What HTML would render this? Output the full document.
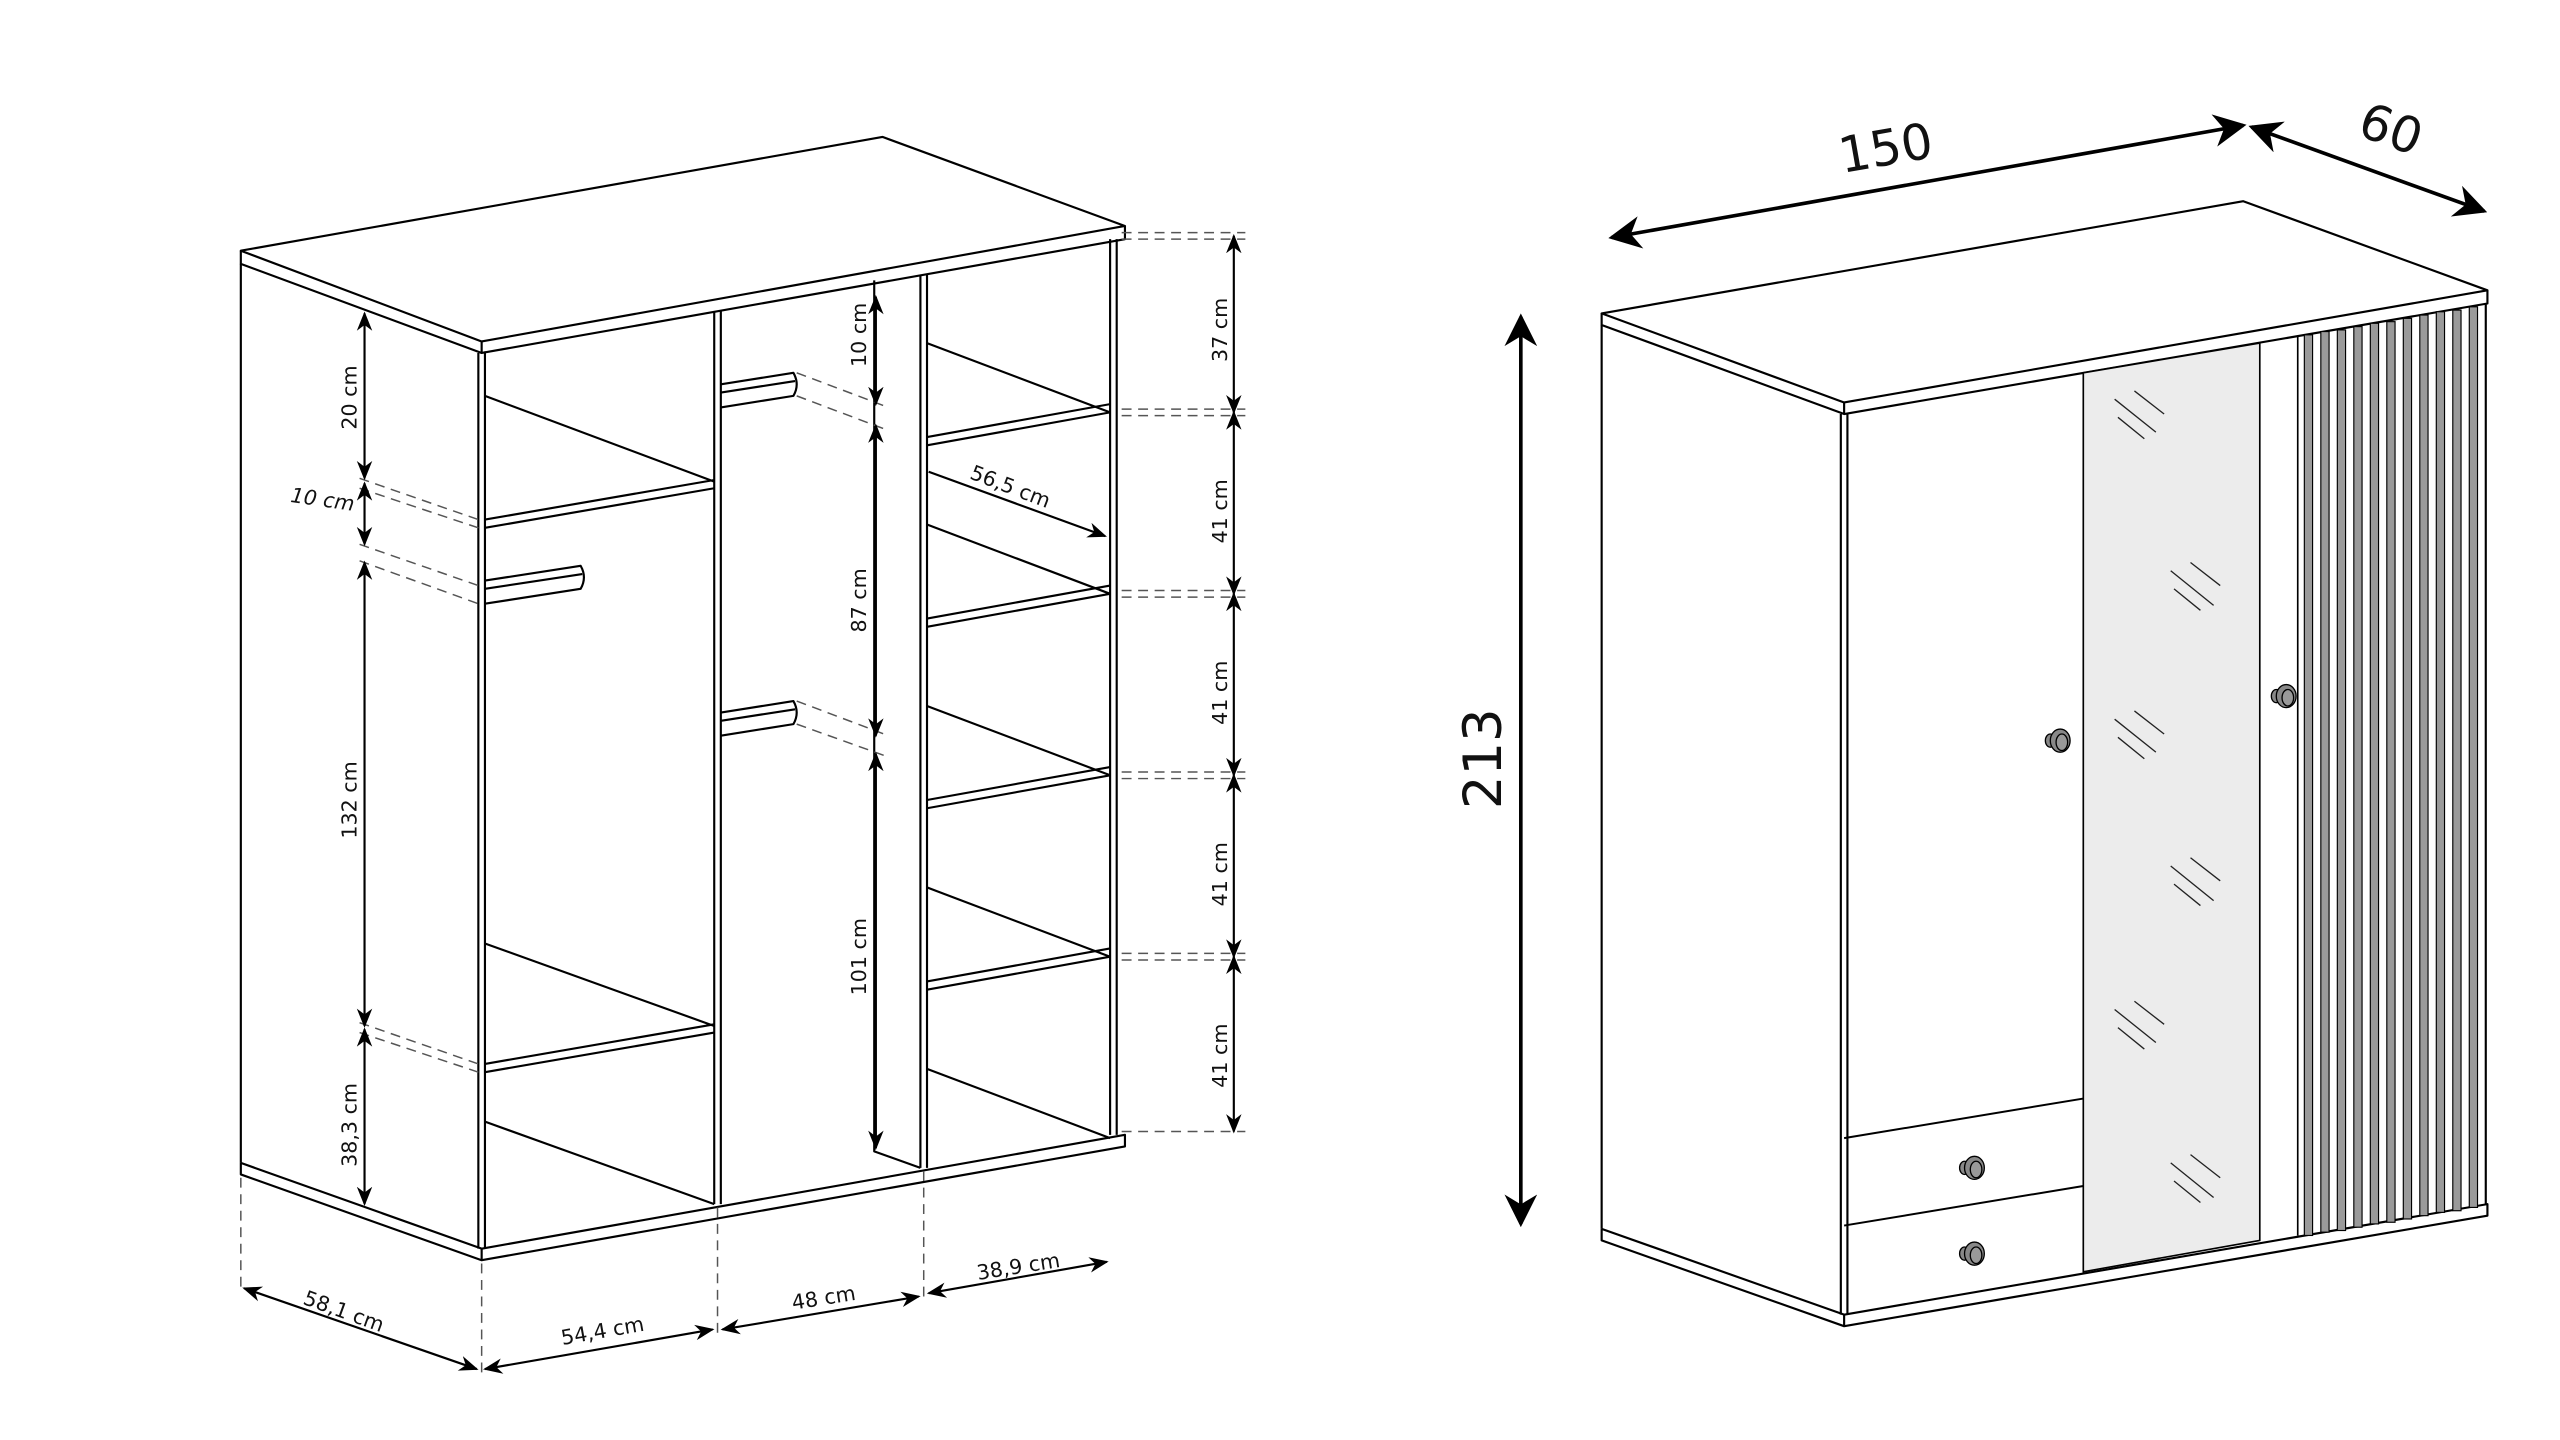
<!DOCTYPE html>
<html><head><meta charset="utf-8"><style>
html,body{margin:0;padding:0;background:#fff;}
svg{display:block;}
text{font-family:"DejaVu Sans","Liberation Sans",sans-serif;fill:#111;}
</style></head><body>
<svg width="2560" height="1440" viewBox="0 0 1552 873" preserveAspectRatio="none" xmlns="http://www.w3.org/2000/svg">
<defs>
<marker id="a" viewBox="0 0 10 10" refX="9" refY="5" markerWidth="9" markerHeight="9" orient="auto-start-reverse"><path d="M0,1 L10,5 L0,9 L3,5 Z" fill="#000"/></marker>
<marker id="b" viewBox="0 0 10 10" refX="9" refY="5" markerWidth="9" markerHeight="9" orient="auto-start-reverse"><path d="M0,0 L10,5 L0,10 L3,5 Z" fill="#000"/></marker>
</defs>
<rect width="1552" height="873" fill="#fff"/>
<g fill="none" stroke="#000" stroke-width="1.3" stroke-linejoin="round">
<polygon points="146,152 535,83 682,137 292,207" fill="#fff"/>
<polyline points="146,152 146,160 292,214 682,145 682,137"/>
<line x1="292" y1="207" x2="292" y2="214"/>
<line x1="146" y1="160" x2="146" y2="705"/>
<line x1="290" y1="214" x2="290" y2="757"/>
<line x1="294" y1="213" x2="294" y2="757"/>
<polyline points="146,705 292,757 682,688 682,695 292,764 146,712 146,705"/>
<line x1="292" y1="757" x2="292" y2="764"/>
<line x1="673" y1="145" x2="673" y2="688"/>
<line x1="677" y1="145" x2="677" y2="688"/>
<line x1="433" y1="189" x2="433" y2="730"/>
<line x1="437" y1="188" x2="437" y2="730"/>
<line x1="558" y1="167" x2="558" y2="708"/>
<line x1="562" y1="166" x2="562" y2="708"/>
<polyline points="530,170 530,698 558,708"/>
<line x1="294" y1="240" x2="433" y2="292"/>
<line x1="294" y1="315" x2="433" y2="291"/>
<line x1="294" y1="320" x2="433" y2="296"/>
<line x1="294" y1="572" x2="433" y2="622"/>
<line x1="294" y1="645" x2="433" y2="621"/>
<line x1="294" y1="650" x2="433" y2="626"/>
<line x1="294" y1="680" x2="433" y2="730"/>
<path d="M294,352 L352,343 Q356,350 352,357 L294,366"/>
<line x1="294" y1="357" x2="353" y2="348"/>
<path d="M437,233 L481,226 Q485,233 481,240 L437,247"/>
<line x1="437" y1="238" x2="482" y2="231"/>
<path d="M437,432 L481,425 Q485,432 481,439 L437,446"/>
<line x1="437" y1="437" x2="482" y2="430"/>
<line x1="562" y1="208" x2="673" y2="250"/>
<line x1="562" y1="265" x2="673" y2="245"/>
<line x1="562" y1="270" x2="673" y2="250"/>
<line x1="562" y1="318" x2="673" y2="360"/>
<line x1="562" y1="375" x2="673" y2="355"/>
<line x1="562" y1="380" x2="673" y2="360"/>
<line x1="562" y1="428" x2="673" y2="470"/>
<line x1="562" y1="485" x2="673" y2="465"/>
<line x1="562" y1="490" x2="673" y2="470"/>
<line x1="562" y1="538" x2="673" y2="580"/>
<line x1="562" y1="595" x2="673" y2="575"/>
<line x1="562" y1="600" x2="673" y2="580"/>
<line x1="562" y1="648" x2="673" y2="690"/>
</g>
<g stroke="#555" stroke-width="0.9" stroke-dasharray="6,4" fill="none">
<line x1="680" y1="141" x2="755" y2="141"/><line x1="680" y1="145" x2="755" y2="145"/>
<line x1="680" y1="248" x2="755" y2="248"/><line x1="680" y1="252" x2="755" y2="252"/>
<line x1="680" y1="358" x2="755" y2="358"/><line x1="680" y1="362" x2="755" y2="362"/>
<line x1="680" y1="468" x2="755" y2="468"/><line x1="680" y1="472" x2="755" y2="472"/>
<line x1="680" y1="578" x2="755" y2="578"/><line x1="680" y1="582" x2="755" y2="582"/>
<line x1="680" y1="686" x2="755" y2="686"/>
<line x1="218" y1="290" x2="290" y2="315"/><line x1="218" y1="296" x2="290" y2="320"/>
<line x1="218" y1="330" x2="290" y2="355"/><line x1="218" y1="340" x2="290" y2="366"/>
<line x1="218" y1="620" x2="290" y2="645"/><line x1="218" y1="626" x2="290" y2="650"/>
<line x1="483" y1="226" x2="536" y2="246"/><line x1="483" y1="240" x2="536" y2="260"/>
<line x1="483" y1="425" x2="536" y2="445"/><line x1="483" y1="439" x2="536" y2="458"/>
<line x1="146" y1="714" x2="146" y2="782"/>
<line x1="292" y1="766" x2="292" y2="834"/>
<line x1="435" y1="732" x2="435" y2="810"/>
<line x1="560" y1="710" x2="560" y2="788"/>
</g>
<g stroke="#000" stroke-width="1.3" fill="none" marker-start="url(#a)" marker-end="url(#a)">
<line x1="748" y1="143" x2="748" y2="250"/>
<line x1="748" y1="250" x2="748" y2="360"/>
<line x1="748" y1="360" x2="748" y2="470"/>
<line x1="748" y1="470" x2="748" y2="580"/>
<line x1="748" y1="580" x2="748" y2="686"/>
<line x1="221" y1="190" x2="221" y2="290"/>
<line x1="221" y1="293" x2="221" y2="330"/>
<line x1="221" y1="341" x2="221" y2="622"/>
<line x1="221" y1="624" x2="221" y2="730"/>
<line x1="531" y1="180" x2="531" y2="245"/>
<line x1="531" y1="258" x2="531" y2="446"/>
<line x1="531" y1="457" x2="531" y2="696"/>
<line x1="148" y1="781" x2="289" y2="830"/>
<line x1="294" y1="830" x2="432" y2="806"/>
<line x1="438" y1="806" x2="557" y2="786"/>
<line x1="563" y1="784" x2="671" y2="765"/>
</g>
<line x1="563" y1="286" x2="670" y2="325" stroke="#000" stroke-width="1.3" marker-end="url(#a)"/>
<g font-size="12.5">
<text transform="translate(744,200) rotate(-90)" text-anchor="middle">37 cm</text>
<text transform="translate(744,310) rotate(-90)" text-anchor="middle">41 cm</text>
<text transform="translate(744,420) rotate(-90)" text-anchor="middle">41 cm</text>
<text transform="translate(744,530) rotate(-90)" text-anchor="middle">41 cm</text>
<text transform="translate(744,640) rotate(-90)" text-anchor="middle">41 cm</text>
<text transform="translate(216,241) rotate(-90)" text-anchor="middle">20 cm</text>
<text transform="translate(195,307) rotate(8)" text-anchor="middle" font-style="italic">10 cm</text>
<text transform="translate(216,485) rotate(-90)" text-anchor="middle">132 cm</text>
<text transform="translate(216,682) rotate(-90)" text-anchor="middle">38,3 cm</text>
<text transform="translate(525,203) rotate(-90)" text-anchor="middle">10 cm</text>
<text transform="translate(525,364) rotate(-90)" text-anchor="middle">87 cm</text>
<text transform="translate(525,580) rotate(-90)" text-anchor="middle">101 cm</text>
<text transform="translate(611,299) rotate(21)" text-anchor="middle">56,5 cm</text>
<text transform="translate(207,799) rotate(20)" text-anchor="middle">58,1 cm</text>
<text transform="translate(366,811) rotate(-10)" text-anchor="middle">54,4 cm</text>
<text transform="translate(500,791) rotate(-9)" text-anchor="middle">48 cm</text>
<text transform="translate(618,772) rotate(-9)" text-anchor="middle">38,9 cm</text>
</g>
<g fill="none" stroke="#000" stroke-width="1.3" stroke-linejoin="round">
<polygon points="971,190 1360,122 1508,176 1118,244" fill="#fff"/>
<polyline points="971,190 971,197 1118,251 1508,184 1508,176"/>
<line x1="1118" y1="244" x2="1118" y2="251"/>
<line x1="971" y1="197" x2="971" y2="745"/>
<line x1="1116" y1="251" x2="1116" y2="797"/>
<line x1="1120" y1="251" x2="1120" y2="797"/>
<line x1="1507" y1="184" x2="1507" y2="730"/>
<polyline points="971,745 1118,797 1508,730 1508,737 1118,804 971,752 971,745"/>
<line x1="1118" y1="797" x2="1118" y2="804"/>
</g>
<polygon points="1263,226 1370,208 1370,752 1263,771" fill="#ececec" stroke="#000" stroke-width="1"/>
<line x1="1393" y1="204" x2="1393" y2="749" stroke="#000" stroke-width="1"/>
<g fill="#9a9a9a" stroke="#000" stroke-width="0.7">
<rect x="1397" y="203" width="5" height="546"/>
<rect x="1407" y="201" width="5" height="546"/>
<rect x="1417" y="200" width="5" height="546"/>
<rect x="1427" y="198" width="5" height="546"/>
<rect x="1437" y="196" width="5" height="546"/>
<rect x="1447" y="195" width="5" height="546"/>
<rect x="1457" y="193" width="5" height="546"/>
<rect x="1467" y="191" width="5" height="546"/>
<rect x="1477" y="189" width="5" height="546"/>
<rect x="1487" y="188" width="5" height="546"/>
<rect x="1497" y="186" width="5" height="546"/>
</g>
<g stroke="#000" stroke-width="1.2" fill="none">
<line x1="1118" y1="690" x2="1263" y2="666"/>
<line x1="1118" y1="743" x2="1263" y2="719"/>
</g>
<g stroke="#222" stroke-width="0.8">
<line x1="1282" y1="242" x2="1307" y2="262"/><line x1="1294" y1="237" x2="1312" y2="251"/><line x1="1284" y1="253" x2="1300" y2="266"/>
<line x1="1316" y1="346" x2="1342" y2="367"/><line x1="1328" y1="341" x2="1346" y2="355"/><line x1="1318" y1="357" x2="1334" y2="370"/>
<line x1="1282" y1="436" x2="1307" y2="456"/><line x1="1294" y1="431" x2="1312" y2="445"/><line x1="1284" y1="447" x2="1300" y2="460"/>
<line x1="1316" y1="525" x2="1342" y2="546"/><line x1="1328" y1="520" x2="1346" y2="534"/><line x1="1318" y1="536" x2="1334" y2="549"/>
<line x1="1282" y1="612" x2="1307" y2="632"/><line x1="1294" y1="607" x2="1312" y2="621"/><line x1="1284" y1="623" x2="1300" y2="636"/>
<line x1="1316" y1="705" x2="1342" y2="726"/><line x1="1328" y1="700" x2="1346" y2="714"/><line x1="1318" y1="716" x2="1334" y2="729"/>
</g>
<g fill="#888" stroke="#000" stroke-width="0.8">
<ellipse cx="1243" cy="449" rx="3" ry="4"/><ellipse cx="1249" cy="449" rx="6" ry="7"/><ellipse cx="1250" cy="450" rx="3.5" ry="5" fill="#999"/>
<ellipse cx="1380" cy="422" rx="3" ry="4"/><ellipse cx="1386" cy="422" rx="6" ry="7"/><ellipse cx="1387" cy="423" rx="3.5" ry="5" fill="#999"/>
<ellipse cx="1191" cy="708" rx="3" ry="4"/><ellipse cx="1197" cy="708" rx="6" ry="7"/><ellipse cx="1198" cy="709" rx="3.5" ry="5" fill="#999"/>
<ellipse cx="1191" cy="760" rx="3" ry="4"/><ellipse cx="1197" cy="760" rx="6" ry="7"/><ellipse cx="1198" cy="761" rx="3.5" ry="5" fill="#999"/>
</g>
<g stroke="#000" stroke-width="2.2" fill="none" marker-start="url(#b)" marker-end="url(#b)">
<line x1="977" y1="144" x2="1360" y2="76"/>
<line x1="1365" y1="77" x2="1506" y2="128"/>
<line x1="922" y1="192" x2="922" y2="742"/>
</g>
<text transform="translate(1145,100) rotate(-10)" text-anchor="middle" font-size="30">150</text>
<text transform="translate(1446,88) rotate(20)" text-anchor="middle" font-size="30">60</text>
<text transform="translate(910,460) rotate(-90)" text-anchor="middle" font-size="32">213</text>
</svg>
</body></html>
